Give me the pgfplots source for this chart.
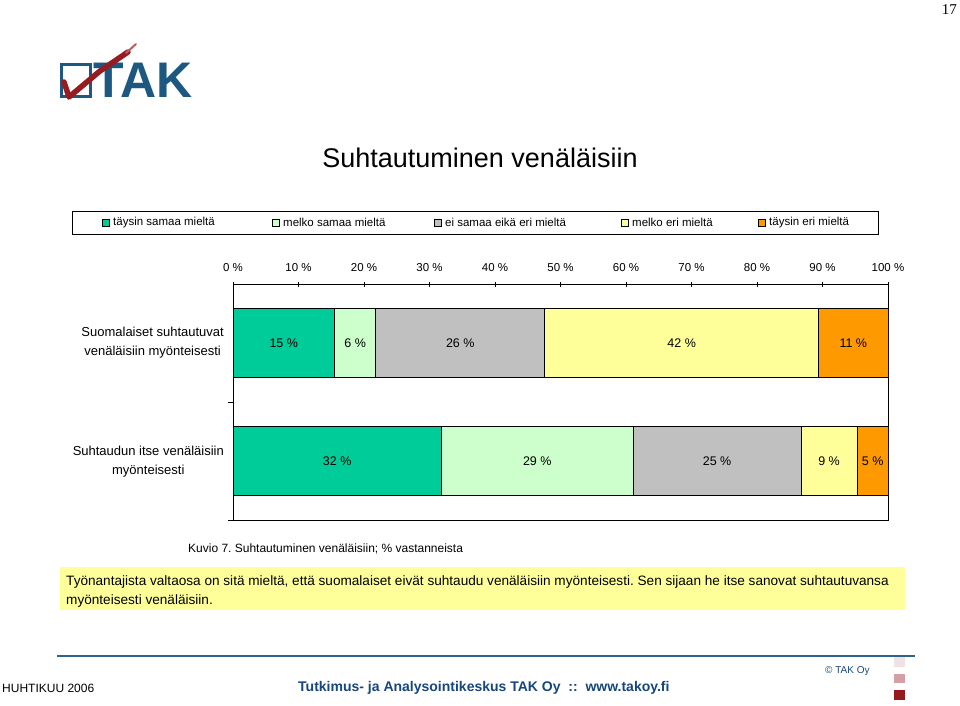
\documentclass[border=0pt]{standalone}
\usepackage{pgfplots}
\pgfplotsset{compat=1.18}
\usepackage{fontspec}
\setmainfont{Liberation Sans}
\newfontfamily\seriffont{Liberation Serif}
\definecolor{cA}{RGB}{0,204,153}
\definecolor{cB}{RGB}{204,255,204}
\definecolor{cC}{RGB}{192,192,192}
\definecolor{cD}{RGB}{255,255,153}
\definecolor{cE}{RGB}{255,153,0}
\definecolor{tak}{RGB}{28,88,128}
\definecolor{takred}{RGB}{150,28,34}
\definecolor{boxyellow}{RGB}{255,255,153}
\definecolor{footblue}{RGB}{22,70,125}
\definecolor{lineblue}{RGB}{46,100,140}
\definecolor{pk1}{RGB}{240,226,228}
\definecolor{pk2}{RGB}{212,160,166}
\definecolor{pk3}{RGB}{150,25,30}
\newcommand{\fs}[1]{\fontsize{#1}{#1}\selectfont}
\frenchspacing
\pgfplotsset{common/.style={
  width=655pt, height=236pt, scale only axis,
  at={(233pt,-284pt)}, anchor=north west,
  xmin=0, xmax=100, ymin=0, ymax=2, y dir=reverse}}
\begin{document}
\frenchspacing
\begin{tikzpicture}[x=1pt,y=1pt]
\path[use as bounding box] (0,0) rectangle (960,-705);
% page number
\node[anchor=base east, inner sep=0pt, font=\seriffont\fs{15}] at (957,-14) {17};
% logo
\draw[tak, line width=3pt] (61.5,-64) rectangle (90,-96);
\node[anchor=base west, inner sep=0pt, text=tak, font=\bfseries\fs{50}] at (93,-97) {TAK};
\draw[takred, line width=5.5pt, line cap=round, line join=round] (64,-82) -- (69,-97) -- (100,-71) -- (128,-52);
\draw[takred!70, line width=2pt, line cap=round] (126,-53) -- (136,-44);
% title
\node[font=\fs{27}] at (480,-158) {Suhtautuminen venäläisiin};
% legend
\draw[black, line width=0.6pt] (72,-211) rectangle (878,-234);
\foreach \xx/\cc/\tt in {102/cA/täysin samaa mieltä, 272/cB/melko samaa mieltä, 434/cC/ei samaa eikä eri mieltä, 621/cD/melko eri mieltä, 758/cE/täysin eri mieltä}{
  \draw[black, line width=0.6pt, fill=\cc] (\xx,-219) rectangle ++(7,-7);
  \node[anchor=west, inner sep=0pt, font=\fs{11.5}] at (\xx+11,-222.5) {\tt};
}
% category labels
\node[anchor=east, align=center, font=\fontsize{13}{19}\selectfont, inner sep=0pt] at (224,-342.5) {Suomalaiset suhtautuvat\\venäläisiin myönteisesti};
\node[anchor=east, align=center, font=\fontsize{13}{19}\selectfont, inner sep=0pt] at (224,-461.5) {Suhtaudun itse venäläisiin\\myönteisesti};
% chart
\begin{axis}[common,
  xbar stacked, bar width=69pt,
  axis line style={black, line width=0.8pt},
  xtick={0,10,...,100},
  xticklabels={0 \%,10 \%,20 \%,30 \%,40 \%,50 \%,60 \%,70 \%,80 \%,90 \%,100 \%},
  xtick pos=right, xticklabel pos=right,
  xticklabel style={font=\fs{11.5}, yshift=4pt},
  ytick={1,2}, yticklabels={}, ytick pos=left,
  tick align=outside, major tick length=5pt,
  tick style={black, line width=0.8pt},
  x tick style={yshift=-2.5pt},
]
\addplot[fill=cA, draw=black, line width=0.6pt] coordinates {(15.5,0.5) (31.8,1.5)};
\addplot[fill=cB, draw=black, line width=0.6pt] coordinates {(6.3,0.5) (29.3,1.5)};
\addplot[fill=cC, draw=black, line width=0.6pt] coordinates {(25.8,0.5) (25.6,1.5)};
\addplot[fill=cD, draw=black, line width=0.6pt] coordinates {(41.8,0.5) (8.6,1.5)};
\addplot[fill=cE, draw=black, line width=0.6pt] coordinates {(10.6,0.5) (4.7,1.5)};
\end{axis}
\begin{axis}[common, hide axis,
  nodes near coords, point meta=explicit symbolic,
  every node near coord/.style={anchor=center, font=\fs{12.5}, inner sep=0pt}]
\addplot[draw=none, mark=none, nodes near coords] coordinates {
 (7.75,0.5) [15 \%] (18.65,0.5) [6 \%] (34.7,0.5) [26 \%] (68.5,0.5) [42 \%] (94.7,0.5) [11 \%]
 (15.9,1.5) [32 \%] (46.45,1.5) [29 \%] (73.9,1.5) [25 \%] (91.0,1.5) [9 \%] (97.65,1.5) [5 \%]};
\end{axis}
% caption
\node[anchor=west, inner sep=0pt, font=\fs{12}] at (188,-549) {Kuvio 7. Suhtautuminen venäläisiin; \% vastanneista};
% yellow box
\fill[boxyellow] (60,-567) rectangle (905,-610);
\node[anchor=base west, inner sep=0pt, font=\fs{13.6}] at (66,-585) {Työnantajista valtaosa on sitä mieltä, että suomalaiset eivät suhtaudu venäläisiin myönteisesti. Sen sijaan he itse sanovat suhtautuvansa};
\node[anchor=base west, inner sep=0pt, font=\fs{13.6}] at (66,-604) {myönteisesti venäläisiin.};
% footer
\draw[lineblue, line width=2pt] (57,-656) -- (915,-656);
\node[anchor=base west, inner sep=0pt, font=\fs{12}] at (2,-692) {HUHTIKUU 2006};
\node[anchor=base west, inner sep=0pt, text=footblue, font=\bfseries\fs{14}] at (298,-691) {Tutkimus- ja Analysointikeskus TAK Oy\ \ ::\ \ www.takoy.fi};
\node[anchor=base west, inner sep=0pt, text=footblue, font=\fs{10}] at (825,-673) {© TAK Oy};
\fill[pk1] (894,-657) rectangle (905,-667);
\fill[pk2] (894,-674) rectangle (905,-683);
\fill[pk3] (894,-690) rectangle (905,-700);
\end{tikzpicture}
\end{document}
